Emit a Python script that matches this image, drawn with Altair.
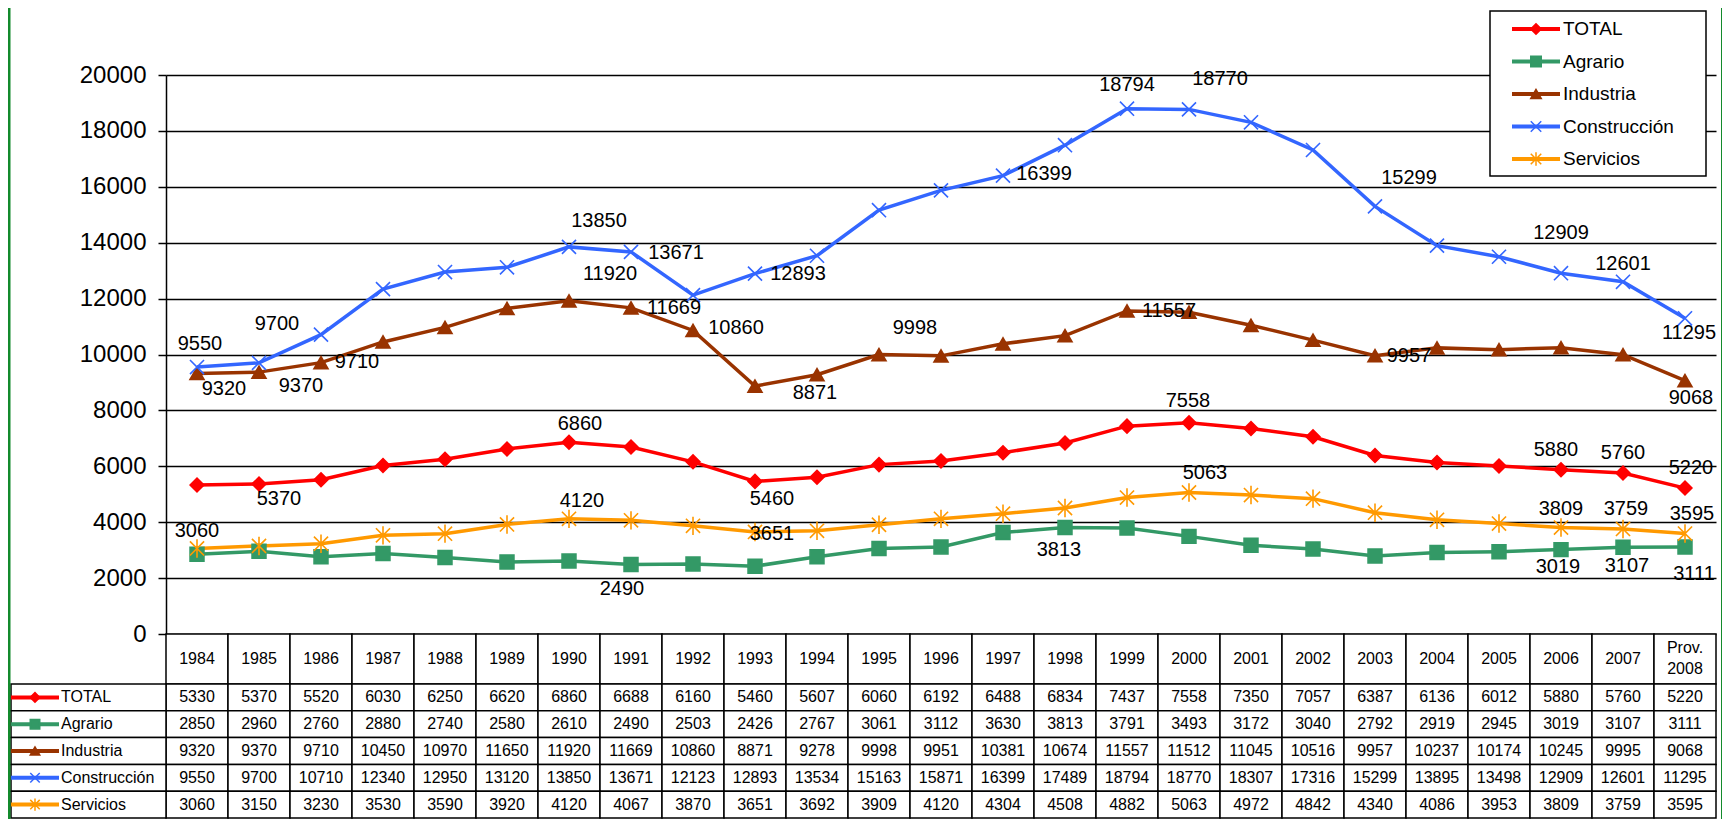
import altair as alt
import pandas as pd

# ---------------- data ----------------
years = ["1984", "1985", "1986", "1987", "1988", "1989", "1990", "1991", "1992",
         "1993", "1994", "1995", "1996", "1997", "1998", "1999", "2000", "2001",
         "2002", "2003", "2004", "2005", "2006", "2007", "Prov. 2008"]
series = ["TOTAL", "Agrario", "Industria", "Construcción", "Servicios"]

total = [5330, 5370, 5520, 6030, 6250, 6620, 6860, 6688, 6160, 5460, 5607, 6060, 6192,
         6488, 6834, 7437, 7558, 7350, 7057, 6387, 6136, 6012, 5880, 5760, 5220]
agrario = [2850, 2960, 2760, 2880, 2740, 2580, 2610, 2490, 2503, 2426, 2767, 3061, 3112,
           3630, 3813, 3791, 3493, 3172, 3040, 2792, 2919, 2945, 3019, 3107, 3111]
industria = [9320, 9370, 9710, 10450, 10970, 11650, 11920, 11669, 10860, 8871, 9278, 9998,
             9951, 10381, 10674, 11557, 11512, 11045, 10516, 9957, 10237, 10174, 10245,
             9995, 9068]
construccion = [9550, 9700, 10710, 12340, 12950, 13120, 13850, 13671, 12123, 12893, 13534,
                15163, 15871, 16399, 17489, 18794, 18770, 18307, 17316, 15299, 13895,
                13498, 12909, 12601, 11295]
servicios = [3060, 3150, 3230, 3530, 3590, 3920, 4120, 4067, 3870, 3651, 3692, 3909, 4120,
             4304, 4508, 4882, 5063, 4972, 4842, 4340, 4086, 3953, 3809, 3759, 3595]

values = {"TOTAL": total, "Agrario": agrario, "Industria": industria,
          "Construcción": construccion, "Servicios": servicios}

# which points carry a data label (series, year)
labelled = {
    "Construcción": ["1984", "1985", "1990", "1991", "1993", "1997", "1999", "2000",
                     "2003", "2006", "2007", "Prov. 2008"],
    "Industria": ["1984", "1985", "1986", "1990", "1991", "1992", "1993", "1995",
                  "1999", "2003", "Prov. 2008"],
    "TOTAL": ["1985", "1990", "1993", "2000", "2006", "2007", "Prov. 2008"],
    "Servicios": ["1984", "1990", "1993", "2000", "2006", "2007", "Prov. 2008"],
    "Agrario": ["1991", "1998", "2006", "2007", "Prov. 2008"],
}

# ---------------- styling / label placement (pixels) ----------------
label_offsets = {
    ("Construcción", "1984"): (3, -23), ("Construcción", "1985"): (18, -39),
    ("Construcción", "1990"): (30, -26), ("Construcción", "1991"): (45, 1),
    ("Construcción", "1993"): (43, 0), ("Construcción", "1997"): (41, -2),
    ("Construcción", "1999"): (0, -24), ("Construcción", "2000"): (31, -30),
    ("Construcción", "2003"): (34, -28), ("Construcción", "2006"): (0, -40),
    ("Construcción", "2007"): (0, -18), ("Construcción", "Prov. 2008"): (4, 15),
    ("Industria", "1984"): (27, 15), ("Industria", "1985"): (42, 14),
    ("Industria", "1986"): (36, -1), ("Industria", "1990"): (41, -27),
    ("Industria", "1991"): (43, 0), ("Industria", "1992"): (43, -2),
    ("Industria", "1993"): (60, 7), ("Industria", "1995"): (36, -27),
    ("Industria", "1999"): (42, 0), ("Industria", "2003"): (34, 0),
    ("Industria", "Prov. 2008"): (6, 17),
    ("TOTAL", "1985"): (20, 15), ("TOTAL", "1990"): (11, -18),
    ("TOTAL", "1993"): (17, 18), ("TOTAL", "2000"): (-1, -22),
    ("TOTAL", "2006"): (-5, -20), ("TOTAL", "2007"): (0, -20),
    ("TOTAL", "Prov. 2008"): (6, -20),
    ("Servicios", "1984"): (0, -17), ("Servicios", "1990"): (13, -18),
    ("Servicios", "1993"): (17, 2), ("Servicios", "2000"): (16, -19),
    ("Servicios", "2006"): (0, -19), ("Servicios", "2007"): (3, -20),
    ("Servicios", "Prov. 2008"): (7, -20),
    ("Agrario", "1991"): (-9, 25), ("Agrario", "1998"): (-6, 23),
    ("Agrario", "2006"): (-3, 17), ("Agrario", "2007"): (4, 19),
    ("Agrario", "Prov. 2008"): (9, 27),
}

colors = ["#ff0000", "#339966", "#993300", "#3366ff", "#ff9900"]
X_PATH = "M-1,-1L1,1M-1,1L1,-1"
STAR_PATH = "M-1,-1L1,1M-1,1L1,-1M0,-1.3L0,1.3"
shapes = ["diamond", "square", "triangle-up", X_PATH, STAR_PATH]
marker_sizes = [190, 200, 140, 225, 225]
FONT = "Liberation Sans"
GREEN = "#138a2c"

W, H = 1550, 559
HEAD_TOP, HEAD_BOT = 559, 609
ROWS_TOP, ROWS_BOT = 609, 743

# ---------------- tables ----------------
long_df = pd.DataFrame([
    {"series": s, "year": y, "value": values[s][i]}
    for s in series for i, y in enumerate(years)
])
years_df = pd.DataFrame({"year": years})
series_df = pd.DataFrame({"series": series})
one = pd.DataFrame({"k": [0]})

lab_rows = []
for s in series:
    for y in labelled[s]:
        dx, dy = label_offsets[(s, y)]
        lab_rows.append({"series": s, "year": y,
                         "value": values[s][years.index(y)], "dx": dx, "dy": dy})
lab_df = pd.DataFrame(lab_rows)

# ---------------- encodings ----------------
xscale = alt.Scale(type="band", domain=years, paddingInner=0, paddingOuter=0)
x_c = alt.X("year:N", sort=years, scale=xscale, axis=None, bandPosition=0.5)
x_band = alt.X("year:N", sort=years, scale=xscale, axis=None)

yscale = alt.Scale(domain=[0, 20000])
yaxis = alt.Axis(
    values=list(range(0, 20001, 2000)), format="d", title=None,
    grid=True, gridColor="black", gridWidth=1.5, gridOpacity=1,
    domainColor="black", domainWidth=1.5, tickColor="black", tickSize=8,
    tickWidth=1.5, labelFont=FONT, labelFontSize=24, labelColor="black",
    labelPadding=12)
y_axis = alt.Y("value:Q", scale=yscale, axis=yaxis)

cscale = alt.Scale(domain=series, range=colors)
sscale = alt.Scale(domain=series, range=shapes)
color = alt.Color("series:N", scale=cscale, legend=None)
fill = alt.Fill("series:N", scale=cscale, legend=None)
stroke = alt.Stroke("series:N", scale=cscale, legend=None)
shape = alt.Shape("series:N", scale=sscale, legend=None)

lines = alt.Chart(long_df).mark_line(strokeWidth=3.5).encode(
    x=x_c, y=y_axis, color=color)
points = alt.Chart(long_df).mark_point(filled=True, opacity=1, strokeWidth=1.6).encode(
    x=x_c, y=y_axis, shape=shape, fill=fill, stroke=stroke,
    size=alt.Size("series:N", scale=alt.Scale(domain=series, range=marker_sizes),
                  legend=None))

label_layers = []
for (dx, dy), sub in lab_df.groupby(["dx", "dy"]):
    label_layers.append(
        alt.Chart(sub.reset_index(drop=True)).mark_text(
            dx=int(dx), dy=int(dy), font=FONT, fontSize=20, color="black",
            align="center", baseline="middle").encode(
            x=x_c, y=y_axis, text=alt.Text("value:Q", format="d")))

plot = alt.layer(lines, points, *label_layers)

# table
ty_scale = alt.Scale(type="band", domain=series, range=[ROWS_TOP, ROWS_BOT],
                     paddingInner=0, paddingOuter=0)
ty = alt.Y("series:N", sort=series, scale=ty_scale, axis=None)
ty_c = alt.Y("series:N", sort=series, scale=ty_scale, axis=None, bandPosition=0.5)

cells = alt.Chart(long_df).mark_rect(fill="white", stroke="black", strokeWidth=1.5).encode(
    x=x_band, y=ty)
cell_text = alt.Chart(long_df).mark_text(font=FONT, fontSize=16, color="black",
                                         baseline="middle").encode(
    x=x_c, y=ty_c, text=alt.Text("value:Q", format="d"))
head_cells = alt.Chart(years_df).mark_rect(fill="white", stroke="black",
                                           strokeWidth=1.5).encode(
    x=x_band, y=alt.value(HEAD_TOP), y2=alt.value(HEAD_BOT))
head_text = alt.Chart(years_df).transform_filter(
    "indexof(datum.year, ' ') < 0").mark_text(
    font=FONT, fontSize=16, color="black", baseline="middle").encode(
    x=x_c, y=alt.value((HEAD_TOP + HEAD_BOT) / 2), text="year:N")
head_text2 = alt.Chart(years_df).transform_filter(
    "indexof(datum.year, ' ') >= 0").mark_text(
    font=FONT, fontSize=16, color="black", baseline="middle", lineBreak=" ",
    lineHeight=21, dy=-11).encode(
    x=x_c, y=alt.value((HEAD_TOP + HEAD_BOT) / 2), text="year:N")
name_cells = alt.Chart(series_df).mark_rect(fill="white", stroke="black",
                                            strokeWidth=1.5).encode(
    x=alt.value(-155), x2=alt.value(0), y=ty)
name_sw = alt.Chart(series_df).mark_rule(strokeWidth=4).encode(
    x=alt.value(-155), x2=alt.value(-107), y=ty_c, color=color)
name_pt = alt.Chart(series_df).mark_point(filled=True, opacity=1, size=90,
                                          strokeWidth=1.5).encode(
    x=alt.value(-131), y=ty_c, shape=shape, fill=fill, stroke=stroke)
name_txt = alt.Chart(series_df).mark_text(font=FONT, fontSize=16, color="black",
                                          align="left", baseline="middle").encode(
    x=alt.value(-105), y=ty_c, text="series:N")

# legend
ly = alt.Y("series:N", sort=series, axis=None,
           scale=alt.Scale(type="point", domain=series, range=[-46, 84], padding=0))
leg_box = alt.Chart(one).mark_rect(fill="white", stroke="black", strokeWidth=1.5).encode(
    x=alt.value(1324), x2=alt.value(1540), y=alt.value(-64), y2=alt.value(101))
leg_sw = alt.Chart(series_df).mark_rule(strokeWidth=4).encode(
    x=alt.value(1346), x2=alt.value(1394), y=ly, color=color)
leg_pt = alt.Chart(series_df).mark_point(filled=True, opacity=1, size=110,
                                         strokeWidth=1.5).encode(
    x=alt.value(1370), y=ly, shape=shape, fill=fill, stroke=stroke)
leg_txt = alt.Chart(series_df).mark_text(font=FONT, fontSize=19, color="black",
                                         align="left", baseline="middle").encode(
    x=alt.value(1397), y=ly, text="series:N")

# green page border slivers
green_l = alt.Chart(one).mark_rect(color=GREEN).encode(
    x=alt.value(-158), x2=alt.value(-155.5), y=alt.value(-67), y2=alt.value(744))
green_r = alt.Chart(one).mark_rect(color=GREEN).encode(
    x=alt.value(1555), x2=alt.value(1556), y=alt.value(-67), y2=alt.value(744))

chart = alt.layer(
    plot,
    head_cells, head_text, head_text2, cells, cell_text,
    name_cells, name_sw, name_pt, name_txt,
    leg_box, leg_sw, leg_pt, leg_txt,
    green_l, green_r,
).resolve_scale(y="independent").properties(
    width=W, height=H,
    padding={"left": 158, "top": 67, "right": 6, "bottom": 185},
    autosize=alt.AutoSizeParams(type="none"),
    background="white",
).configure_view(strokeWidth=0)

chart.save("out.html", embed_options={"renderer": "svg", "actions": False})
